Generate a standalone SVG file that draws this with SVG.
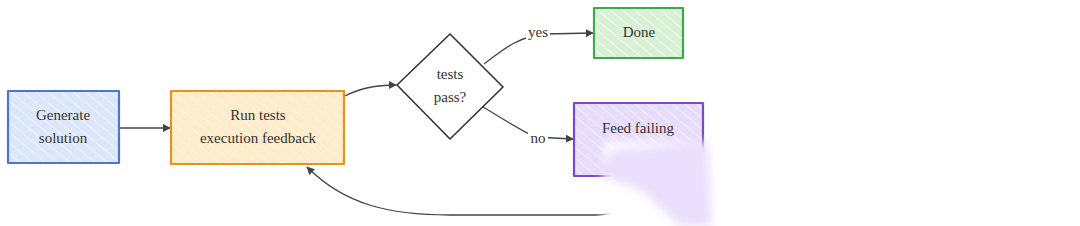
<svg xmlns="http://www.w3.org/2000/svg" width="1080" height="226" viewBox="0 0 1080 226">
<defs>
<style>
.lbl{font-family:"Liberation Serif","Times New Roman",serif;font-size:15px;fill:#333;text-anchor:middle;}
.edge{fill:none;stroke:#444;stroke-width:1.3;}
.box{stroke-width:2.2;stroke-linejoin:round;}
</style>
<pattern id="hb" width="8" height="8" patternUnits="userSpaceOnUse" patternTransform="rotate(-50)"><rect width="8" height="8" fill="#dce7fb"/><line x1="0" y1="0" x2="0" y2="8" stroke="#fff" stroke-width="1.4" opacity="0.8"/></pattern>
<pattern id="ho" width="8" height="8" patternUnits="userSpaceOnUse" patternTransform="rotate(-50)"><rect width="8" height="8" fill="#fdebc9"/><line x1="0" y1="0" x2="0" y2="8" stroke="#fff" stroke-width="1.4" opacity="0.8"/></pattern>
<pattern id="hg" width="8" height="8" patternUnits="userSpaceOnUse" patternTransform="rotate(-50)"><rect width="8" height="8" fill="#d9f2d6"/><line x1="0" y1="0" x2="0" y2="8" stroke="#fff" stroke-width="1.4" opacity="0.8"/></pattern>
<pattern id="hp" width="8" height="8" patternUnits="userSpaceOnUse" patternTransform="rotate(-50)"><rect width="8" height="8" fill="#e7dcfb"/><line x1="0" y1="0" x2="0" y2="8" stroke="#fff" stroke-width="1.4" opacity="0.8"/></pattern>
<marker id="arr" viewBox="0 0 10 10" refX="9" refY="5" markerWidth="8" markerHeight="8" markerUnits="userSpaceOnUse" orient="auto"><path d="M0,0 L10,5 L0,10 z" fill="#444"/></marker>
<filter id="soft" x="-30%" y="-30%" width="160%" height="160%"><feGaussianBlur stdDeviation="5"/></filter>
</defs>
<rect width="1080" height="226" fill="#fff"/>
<g id="connectors">
<path class="edge" d="M119,128 L170,128" marker-end="url(#arr)"/>
<path class="edge" d="M345,96 C360,88 375,85 396,85" marker-end="url(#arr)"/>
<path class="edge" d="M484,64 C505,48 520,36 545,34 L593,33" marker-end="url(#arr)"/>
<path class="edge" d="M483,107 C505,120 520,130 535,137 L573,139" marker-end="url(#arr)"/>
<path class="edge" d="M639,176 C639,200 625,215 595,215 L450,215 C390,215 345,205 307,167" marker-end="url(#arr)"/>
</g>
<g id="lbl-yes"><rect x="526" y="25" width="24" height="14" fill="#fff"/><text class="lbl" x="538" y="37">yes</text></g>
<g id="lbl-no"><rect x="528" y="132" width="20" height="14" fill="#fff"/><text class="lbl" x="538" y="143">no</text></g>
<g id="generate">
<rect class="box" x="8" y="91" width="111" height="72" fill="url(#hb)" stroke="#4a78cf"/>
<text class="lbl" x="63" y="120">Generate</text>
<text class="lbl" x="63" y="143">solution</text>
</g>
<g id="runtests">
<rect class="box" x="171" y="91" width="173" height="73" fill="url(#ho)" stroke="#e0961c"/>
<text class="lbl" x="258" y="120">Run tests</text>
<text class="lbl" x="258" y="143">execution feedback</text>
</g>
<g id="decision">
<path d="M450,34 L503,87 L450,139 L397,85 Z" fill="#fff" stroke="#333" stroke-width="1.6" stroke-linejoin="round"/>
<text class="lbl" x="450" y="79">tests</text>
<text class="lbl" x="450" y="102">pass?</text>
</g>
<g id="done">
<rect class="box" x="594" y="8" width="89" height="50" fill="url(#hg)" stroke="#3fa84c"/>
<text class="lbl" x="639" y="37">Done</text>
</g>
<g id="feed">
<rect class="box" x="574" y="103" width="129" height="73" fill="url(#hp)" stroke="#7a48d0"/>
<text class="lbl" x="638" y="133">Feed failing</text>
</g>
<g filter="url(#soft)">
<path d="M604,142 L712,142 L760,226 L604,226 Z" fill="#fff"/>
<path d="M612,150 L708,142 L712,226 L680,226 L640,190 L600,176 Z" fill="#e6d9fc" opacity="0.85"/>
</g>
</svg>
